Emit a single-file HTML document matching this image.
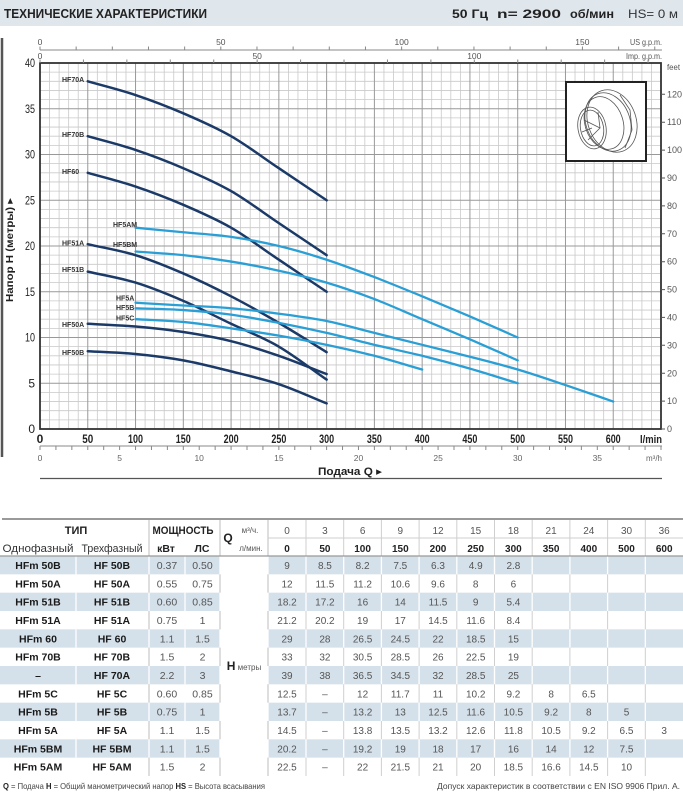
<!DOCTYPE html>
<html><head><meta charset="utf-8"><style>html,body{margin:0;padding:0;background:#fff}svg{display:block}</style></head>
<body>
<svg width="683" height="800" viewBox="0 0 683 800" xmlns="http://www.w3.org/2000/svg" font-family="Liberation Sans, DejaVu Sans, sans-serif">
<rect x="0" y="0" width="683" height="800" fill="#fff"/>
<!-- header -->
<rect x="0" y="0" width="683" height="26" fill="#dfe6ec"/>
<text x="4" y="18" font-size="12.5" font-weight="bold" fill="#222" textLength="203" lengthAdjust="spacingAndGlyphs">ТЕХНИЧЕСКИЕ ХАРАКТЕРИСТИКИ</text>
<text x="452" y="18" font-size="12" font-weight="bold" fill="#222" textLength="36" lengthAdjust="spacingAndGlyphs">50 Гц</text>
<text x="497" y="18" font-size="12" font-weight="bold" fill="#222" textLength="64" lengthAdjust="spacingAndGlyphs">n= 2900</text>
<text x="570" y="18" font-size="12" font-weight="bold" fill="#222" textLength="44" lengthAdjust="spacingAndGlyphs">об/мин</text>
<text x="628" y="18" font-size="12" fill="#333" textLength="50" lengthAdjust="spacingAndGlyphs">HS= 0 м</text>

<!-- left border -->
<line x1="2" y1="38" x2="2" y2="457" stroke="#555" stroke-width="2.5"/>

<!-- grid -->
<g transform="translate(40 429) scale(0.9554 -9.15)" fill="none">
<path vector-effect="non-scaling-stroke" stroke="#c9c9c9" stroke-width="0.8" d="M10 0V40M20 0V40M30 0V40M40 0V40M60 0V40M70 0V40M80 0V40M90 0V40M110 0V40M120 0V40M130 0V40M140 0V40M160 0V40M170 0V40M180 0V40M190 0V40M210 0V40M220 0V40M230 0V40M240 0V40M260 0V40M270 0V40M280 0V40M290 0V40M310 0V40M320 0V40M330 0V40M340 0V40M360 0V40M370 0V40M380 0V40M390 0V40M410 0V40M420 0V40M430 0V40M440 0V40M460 0V40M470 0V40M480 0V40M490 0V40M510 0V40M520 0V40M530 0V40M540 0V40M560 0V40M570 0V40M580 0V40M590 0V40M610 0V40M620 0V40M630 0V40M640 0V40"/>
<path vector-effect="non-scaling-stroke" stroke="#c9c9c9" stroke-width="0.8" d="M0 1H650M0 2H650M0 3H650M0 4H650M0 6H650M0 7H650M0 8H650M0 9H650M0 11H650M0 12H650M0 13H650M0 14H650M0 16H650M0 17H650M0 18H650M0 19H650M0 21H650M0 22H650M0 23H650M0 24H650M0 26H650M0 27H650M0 28H650M0 29H650M0 31H650M0 32H650M0 33H650M0 34H650M0 36H650M0 37H650M0 38H650M0 39H650"/>
<path vector-effect="non-scaling-stroke" stroke="#999" stroke-width="1" d="M50 0V40M100 0V40M150 0V40M200 0V40M250 0V40M300 0V40M350 0V40M400 0V40M450 0V40M500 0V40M550 0V40M600 0V40M0 5H650M0 10H650M0 15H650M0 20H650M0 25H650M0 30H650M0 35H650"/>
</g>
<rect x="40" y="63" width="621" height="366" fill="none" stroke="#333" stroke-width="1.8"/>

<!-- pump picture -->
<rect x="566" y="82" width="80" height="79" fill="#fff" stroke="#222" stroke-width="2"/>
<g fill="none" stroke="#555" stroke-width="0.8">
<ellipse cx="612" cy="121" rx="24" ry="32" transform="rotate(-20 612 121)"/>
<ellipse cx="608" cy="122" rx="22" ry="30" transform="rotate(-20 608 122)"/>
<ellipse cx="604" cy="123" rx="19" ry="27" transform="rotate(-18 604 123)"/>
<ellipse cx="592" cy="128" rx="14" ry="21" transform="rotate(-10 592 128)"/>
<ellipse cx="592" cy="128" rx="11.5" ry="18" transform="rotate(-10 592 128)"/>
<path d="M584 120 L600 128 L588 140 M600 128 L598 112 M592 128 L582 132"/>
<path d="M620 95 L630 110 L632 130 L625 148"/>
</g>

<!-- top axes -->
<line x1="40" y1="50" x2="662" y2="50" stroke="#888" stroke-width="1"/>
<g transform="translate(40 0) scale(3.6162 1)">
<path vector-effect="non-scaling-stroke" stroke="#888" stroke-width="1" d="M0 46.5V50M10 46.5V50M20 46.5V50M30 46.5V50M40 46.5V50M50 46.5V50M60 46.5V50M70 46.5V50M80 46.5V50M90 46.5V50M100 46.5V50M110 46.5V50M120 46.5V50M130 46.5V50M140 46.5V50M150 46.5V50M160 46.5V50M170 46.5V50"/>
</g>
<g transform="translate(40 0) scale(4.3433 1)">
<path vector-effect="non-scaling-stroke" stroke="#888" stroke-width="1" d="M0 59.5V63M10 59.5V63M20 59.5V63M30 59.5V63M40 59.5V63M50 59.5V63M60 59.5V63M70 59.5V63M80 59.5V63M90 59.5V63M100 59.5V63M110 59.5V63M120 59.5V63M130 59.5V63M140 59.5V63"/>
</g>
<g font-size="8.5" fill="#555" text-anchor="middle">
<text x="40" y="45">0</text><text x="220.8" y="45">50</text><text x="401.6" y="45">100</text><text x="582.4" y="45">150</text>
<text x="40" y="59">0</text><text x="257.2" y="59">50</text><text x="474.3" y="59">100</text>
</g>
<text x="662" y="45" font-size="8.5" fill="#555" text-anchor="end" textLength="32" lengthAdjust="spacingAndGlyphs">US g.p.m.</text>
<text x="662" y="59" font-size="8.5" fill="#555" text-anchor="end" textLength="36" lengthAdjust="spacingAndGlyphs">Imp. g.p.m.</text>
<text x="667" y="70" font-size="8.5" fill="#555" textLength="13" lengthAdjust="spacingAndGlyphs">feet</text>

<!-- right axis feet -->
<path stroke="#555" stroke-width="1" d="M661 429H665M661 401.1H665M661 373.2H665M661 345.3H665M661 317.4H665M661 289.6H665M661 261.7H665M661 233.8H665M661 205.9H665M661 178H665M661 150.1H665M661 122.2H665M661 94.3H665"/>
<g font-size="9" fill="#555">
<text x="667" y="432">0</text><text x="667" y="404.2">10</text><text x="667" y="376.3">20</text><text x="667" y="348.4">30</text><text x="667" y="320.5">40</text><text x="667" y="292.6">50</text><text x="667" y="264.7">60</text><text x="667" y="236.8">70</text><text x="667" y="208.9">80</text><text x="667" y="181">90</text><text x="667" y="153.1">100</text><text x="667" y="125.2">110</text><text x="667" y="97.3">120</text>
</g>

<!-- y axis labels -->
<g font-size="12" fill="#222" text-anchor="end">
<text x="35" y="433">0</text><text x="35" y="387.3">5</text>
<text x="35" y="341.5" textLength="10" lengthAdjust="spacingAndGlyphs">10</text>
<text x="35" y="295.8" textLength="10" lengthAdjust="spacingAndGlyphs">15</text>
<text x="35" y="250" textLength="10" lengthAdjust="spacingAndGlyphs">20</text>
<text x="35" y="204.3" textLength="10" lengthAdjust="spacingAndGlyphs">25</text>
<text x="35" y="158.5" textLength="10" lengthAdjust="spacingAndGlyphs">30</text>
<text x="35" y="112.8" textLength="10" lengthAdjust="spacingAndGlyphs">35</text>
<text x="35" y="67" textLength="10" lengthAdjust="spacingAndGlyphs">40</text>
</g>
<text transform="translate(13 250) rotate(-90)" text-anchor="middle" font-size="10.5" font-weight="bold" fill="#222" textLength="104" lengthAdjust="spacingAndGlyphs">Напор H (метры) ▸</text>

<!-- x axis labels -->
<g font-size="12" font-weight="bold" fill="#222" text-anchor="middle">
<text x="40" y="443">0</text>
<text x="87.8" y="443" textLength="11" lengthAdjust="spacingAndGlyphs">50</text>
<text x="135.5" y="443" textLength="15" lengthAdjust="spacingAndGlyphs">100</text>
<text x="183.3" y="443" textLength="15" lengthAdjust="spacingAndGlyphs">150</text>
<text x="231.1" y="443" textLength="15" lengthAdjust="spacingAndGlyphs">200</text>
<text x="278.9" y="443" textLength="15" lengthAdjust="spacingAndGlyphs">250</text>
<text x="326.6" y="443" textLength="15" lengthAdjust="spacingAndGlyphs">300</text>
<text x="374.4" y="443" textLength="15" lengthAdjust="spacingAndGlyphs">350</text>
<text x="422.2" y="443" textLength="15" lengthAdjust="spacingAndGlyphs">400</text>
<text x="469.9" y="443" textLength="15" lengthAdjust="spacingAndGlyphs">450</text>
<text x="517.7" y="443" textLength="15" lengthAdjust="spacingAndGlyphs">500</text>
<text x="565.5" y="443" textLength="15" lengthAdjust="spacingAndGlyphs">550</text>
<text x="613.2" y="443" textLength="15" lengthAdjust="spacingAndGlyphs">600</text>
</g>
<text x="662" y="443" font-size="11" font-weight="bold" fill="#222" text-anchor="end" textLength="22" lengthAdjust="spacingAndGlyphs">l/min</text>

<!-- m3/h axis -->
<line x1="40" y1="446" x2="662" y2="446" stroke="#888" stroke-width="1"/>
<g transform="translate(40 0) scale(15.923 1)">
<path vector-effect="non-scaling-stroke" stroke="#888" stroke-width="1" d="M0 446V450M1 446V450M2 446V450M3 446V450M4 446V450M5 446V450M6 446V450M7 446V450M8 446V450M9 446V450M10 446V450M11 446V450M12 446V450M13 446V450M14 446V450M15 446V450M16 446V450M17 446V450M18 446V450M19 446V450M20 446V450M21 446V450M22 446V450M23 446V450M24 446V450M25 446V450M26 446V450M27 446V450M28 446V450M29 446V450M30 446V450M31 446V450M32 446V450M33 446V450M34 446V450M35 446V450M36 446V450M37 446V450M38 446V450M39 446V450"/>
</g>
<g font-size="8.5" fill="#666" text-anchor="middle">
<text x="40" y="461">0</text><text x="119.6" y="461">5</text><text x="199.2" y="461">10</text><text x="278.9" y="461">15</text><text x="358.5" y="461">20</text><text x="438.1" y="461">25</text><text x="517.7" y="461">30</text><text x="597.3" y="461">35</text>
</g>
<text x="662" y="461" font-size="8" fill="#666" text-anchor="end">m³/h</text>
<text x="350" y="475" font-size="11" font-weight="bold" fill="#222" text-anchor="middle" textLength="64" lengthAdjust="spacingAndGlyphs">Подача Q ▸</text>
<line x1="40" y1="478.5" x2="662" y2="478.5" stroke="#555" stroke-width="1.3"/>

<!-- curves -->
<g transform="translate(40 429) scale(0.9554 -9.15)" fill="none" stroke-linecap="round">
<g stroke="#1b3a68">
<path vector-effect="non-scaling-stroke" stroke-width="2.5" d="M50 8.5C66.67 8.4 83.33 8.367 100 8.2C116.67 8.033 133.33 7.817 150 7.5C166.67 7.183 183.33 6.733 200 6.3C216.67 5.867 233.33 5.483 250 4.9C266.67 4.317 283.33 3.5 300 2.8"/>
<path vector-effect="non-scaling-stroke" stroke-width="2.5" d="M50 11.5C66.67 11.4 83.33 11.35 100 11.2C116.67 11.05 133.33 10.867 150 10.6C166.67 10.333 183.33 10.033 200 9.6C216.67 9.167 233.33 8.6 250 8C266.67 7.4 283.33 6.667 300 6"/>
<path vector-effect="non-scaling-stroke" stroke-width="2.5" d="M50 17.2C66.67 16.8 83.33 16.533 100 16C116.67 15.467 133.33 14.75 150 14C166.67 13.25 183.33 12.333 200 11.5C216.67 10.667 233.33 10.017 250 9C266.67 7.983 283.33 6.6 300 5.4"/>
<path vector-effect="non-scaling-stroke" stroke-width="2.5" d="M50 20.2C66.67 19.8 83.33 19.533 100 19C116.67 18.467 133.33 17.75 150 17C166.67 16.25 183.33 15.4 200 14.5C216.67 13.6 233.33 12.617 250 11.6C266.67 10.583 283.33 9.467 300 8.4"/>
<path vector-effect="non-scaling-stroke" stroke-width="2.5" d="M50 28C66.67 27.5 83.33 27.083 100 26.5C116.67 25.917 133.33 25.25 150 24.5C166.67 23.75 183.33 23 200 22C216.67 21 233.33 19.667 250 18.5C266.67 17.333 283.33 16.167 300 15"/>
<path vector-effect="non-scaling-stroke" stroke-width="2.5" d="M50 32C66.67 31.5 83.33 31.083 100 30.5C116.67 29.917 133.33 29.25 150 28.5C166.67 27.75 183.33 27 200 26C216.67 25 233.33 23.667 250 22.5C266.67 21.333 283.33 20.167 300 19"/>
<path vector-effect="non-scaling-stroke" stroke-width="2.5" d="M50 38C66.67 37.5 83.33 37.083 100 36.5C116.67 35.917 133.33 35.25 150 34.5C166.67 33.75 183.33 33 200 32C216.67 31 233.33 29.667 250 28.5C266.67 27.333 283.33 26.167 300 25"/>
</g>
<g stroke="#2a9fd6">
<path vector-effect="non-scaling-stroke" stroke-width="2.3" d="M100 12C116.67 11.9 133.33 11.867 150 11.7C166.67 11.533 183.33 11.25 200 11C216.67 10.75 233.33 10.5 250 10.2C266.67 9.9 283.33 9.567 300 9.2C316.67 8.833 333.33 8.45 350 8C366.67 7.55 383.33 7 400 6.5"/>
<path vector-effect="non-scaling-stroke" stroke-width="2.3" d="M100 13.2C116.67 13.133 133.33 13.117 150 13C166.67 12.883 183.33 12.733 200 12.5C216.67 12.267 233.33 11.933 250 11.6C266.67 11.267 283.33 10.9 300 10.5C316.67 10.1 333.33 9.617 350 9.2C366.67 8.783 383.33 8.433 400 8C416.67 7.567 433.33 7.1 450 6.6C466.67 6.1 483.33 5.533 500 5"/>
<path vector-effect="non-scaling-stroke" stroke-width="2.3" d="M100 13.8C116.67 13.7 133.33 13.6 150 13.5C166.67 13.4 183.33 13.35 200 13.2C216.67 13.05 233.33 12.833 250 12.6C266.67 12.367 283.33 12.15 300 11.8C316.67 11.45 333.33 10.933 350 10.5C366.67 10.067 383.33 9.633 400 9.2C416.67 8.767 433.33 8.35 450 7.9C466.67 7.45 483.33 7.017 500 6.5C516.67 5.983 533.33 5.383 550 4.8C566.67 4.217 583.33 3.6 600 3"/>
<path vector-effect="non-scaling-stroke" stroke-width="2.3" d="M100 19.4C116.67 19.267 133.33 19.183 150 19C166.67 18.817 183.33 18.583 200 18.3C216.67 18.017 233.33 17.683 250 17.3C266.67 16.917 283.33 16.517 300 16C316.67 15.483 333.33 14.867 350 14.2C366.67 13.533 383.33 12.733 400 12C416.67 11.267 433.33 10.55 450 9.8C466.67 9.05 483.33 8.267 500 7.5"/>
<path vector-effect="non-scaling-stroke" stroke-width="2.3" d="M100 22C116.67 21.833 133.33 21.667 150 21.5C166.67 21.333 183.33 21.25 200 21C216.67 20.75 233.33 20.417 250 20C266.67 19.583 283.33 19.067 300 18.5C316.67 17.933 333.33 17.267 350 16.6C366.67 15.933 383.33 15.217 400 14.5C416.67 13.783 433.33 13.05 450 12.3C466.67 11.55 483.33 10.767 500 10"/>
</g>
</g>

<!-- curve labels -->
<g font-size="7" font-weight="bold" fill="#333">
<text x="62" y="82">HF70A</text>
<text x="62" y="137">HF70B</text>
<text x="62" y="174">HF60</text>
<text x="62" y="245.5">HF51A</text>
<text x="62" y="272">HF51B</text>
<text x="62" y="327">HF50A</text>
<text x="62" y="355">HF50B</text>
<text x="113" y="227">HF5AM</text>
<text x="113" y="247">HF5BM</text>
<text x="116" y="300.5">HF5A</text>
<text x="116" y="310">HF5B</text>
<text x="116" y="320.5">HF5C</text>
</g>

<!-- TABLE -->
<g>
<rect x="0" y="556" width="683" height="18.33" fill="#d5e1ea"/>
<rect x="0" y="592.67" width="683" height="18.33" fill="#d5e1ea"/>
<rect x="0" y="629.33" width="683" height="18.33" fill="#d5e1ea"/>
<rect x="0" y="666" width="683" height="18.33" fill="#d5e1ea"/>
<rect x="0" y="702.67" width="683" height="18.33" fill="#d5e1ea"/>
<rect x="0" y="739.33" width="683" height="18.33" fill="#d5e1ea"/>
<rect x="220" y="556" width="48" height="220" fill="#fff"/>
</g>
<path stroke="#bdbdbd" stroke-width="1" d="M149 520V776M220 520V776M268 520V776"/>
<path stroke="#cfcfcf" stroke-width="1" d="M306 520V776M343.7 520V776M381.4 520V776M419.1 520V776M456.8 520V776M494.5 520V776M532.2 520V776M569.9 520V776M607.6 520V776M645.3 520V776M268 538H683"/>
<path stroke="#fff" stroke-width="1.3" stroke-dasharray="18.33 18.33" d="M76 556V776M149 556V776M185 556V776M220 556V776M268 556V776M306 556V776M343.7 556V776M381.4 556V776M419.1 556V776M456.8 556V776M494.5 556V776M532.2 556V776M569.9 556V776M607.6 556V776M645.3 556V776"/>
<line x1="2" y1="519" x2="683" y2="519" stroke="#9a9a9a" stroke-width="2"/>
<line x1="0" y1="556" x2="683" y2="556" stroke="#999" stroke-width="1.2"/>

<!-- table header -->
<text x="76" y="534" font-size="11" font-weight="bold" fill="#222" text-anchor="middle">ТИП</text>
<text x="183" y="534" font-size="11" font-weight="bold" fill="#222" text-anchor="middle" textLength="61" lengthAdjust="spacingAndGlyphs">МОЩНОСТЬ</text>
<text x="38" y="552" font-size="11" fill="#333" text-anchor="middle" textLength="71" lengthAdjust="spacingAndGlyphs">Однофазный</text>
<text x="112" y="552" font-size="11" fill="#333" text-anchor="middle" textLength="61" lengthAdjust="spacingAndGlyphs">Трехфазный</text>
<text x="166" y="552" font-size="10.5" font-weight="bold" fill="#222" text-anchor="middle">кВт</text>
<text x="202" y="552" font-size="10.5" font-weight="bold" fill="#222" text-anchor="middle">ЛС</text>
<text x="228" y="542" font-size="12" font-weight="bold" fill="#222" text-anchor="middle">Q</text>
<text x="250" y="533" font-size="8" fill="#555" text-anchor="middle">м³/ч.</text>
<text x="251" y="551" font-size="8" fill="#555" text-anchor="middle">л/мин.</text>
<g font-size="10" fill="#555" text-anchor="middle">
<text x="287" y="534">0</text><text x="324.9" y="534">3</text><text x="362.6" y="534">6</text><text x="400.3" y="534">9</text><text x="438" y="534">12</text><text x="475.7" y="534">15</text><text x="513.4" y="534">18</text><text x="551.1" y="534">21</text><text x="588.8" y="534">24</text><text x="626.5" y="534">30</text><text x="664.2" y="534">36</text>
</g>
<g font-size="10" font-weight="bold" fill="#222" text-anchor="middle">
<text x="287" y="552">0</text><text x="324.9" y="552">50</text><text x="362.6" y="552">100</text><text x="400.3" y="552">150</text><text x="438" y="552">200</text><text x="475.7" y="552">250</text><text x="513.4" y="552">300</text><text x="551.1" y="552">350</text><text x="588.8" y="552">400</text><text x="626.5" y="552">500</text><text x="664.2" y="552">600</text>
</g>
<text x="244" y="670" text-anchor="middle" fill="#222"><tspan font-size="12" font-weight="bold">H</tspan><tspan font-size="8" fill="#555"> метры</tspan></text>

<!-- table names -->
<g font-size="10.5" font-weight="bold" fill="#1a1a1a" text-anchor="middle">
<text x="38" y="569">HFm 50B</text><text x="112" y="569">HF 50B</text>
<text x="38" y="587.3">HFm 50A</text><text x="112" y="587.3">HF 50A</text>
<text x="38" y="605.6">HFm 51B</text><text x="112" y="605.6">HF 51B</text>
<text x="38" y="624">HFm 51A</text><text x="112" y="624">HF 51A</text>
<text x="38" y="642.3">HFm 60</text><text x="112" y="642.3">HF 60</text>
<text x="38" y="660.6">HFm 70B</text><text x="112" y="660.6">HF 70B</text>
<text x="38" y="679">–</text><text x="112" y="679">HF 70A</text>
<text x="38" y="697.3">HFm 5C</text><text x="112" y="697.3">HF 5C</text>
<text x="38" y="715.6">HFm 5B</text><text x="112" y="715.6">HF 5B</text>
<text x="38" y="734">HFm 5A</text><text x="112" y="734">HF 5A</text>
<text x="38" y="752.3">HFm 5BM</text><text x="112" y="752.3">HF 5BM</text>
<text x="38" y="770.6">HFm 5AM</text><text x="112" y="770.6">HF 5AM</text>
</g>

<!-- table values -->
<g font-size="10.5" fill="#555" text-anchor="middle">
<text x="167" y="569">0.37</text><text x="202.5" y="569">0.50</text>
<text x="167" y="587.3">0.55</text><text x="202.5" y="587.3">0.75</text>
<text x="167" y="605.6">0.60</text><text x="202.5" y="605.6">0.85</text>
<text x="167" y="624">0.75</text><text x="202.5" y="624">1</text>
<text x="167" y="642.3">1.1</text><text x="202.5" y="642.3">1.5</text>
<text x="167" y="660.6">1.5</text><text x="202.5" y="660.6">2</text>
<text x="167" y="679">2.2</text><text x="202.5" y="679">3</text>
<text x="167" y="697.3">0.60</text><text x="202.5" y="697.3">0.85</text>
<text x="167" y="715.6">0.75</text><text x="202.5" y="715.6">1</text>
<text x="167" y="734">1.1</text><text x="202.5" y="734">1.5</text>
<text x="167" y="752.3">1.1</text><text x="202.5" y="752.3">1.5</text>
<text x="167" y="770.6">1.5</text><text x="202.5" y="770.6">2</text>
</g>
<g font-size="10" fill="#555" text-anchor="middle">
<text x="287" y="569">9</text><text x="324.9" y="569">8.5</text><text x="362.6" y="569">8.2</text><text x="400.3" y="569">7.5</text><text x="438" y="569">6.3</text><text x="475.7" y="569">4.9</text><text x="513.4" y="569">2.8</text>
<text x="287" y="587.3">12</text><text x="324.9" y="587.3">11.5</text><text x="362.6" y="587.3">11.2</text><text x="400.3" y="587.3">10.6</text><text x="438" y="587.3">9.6</text><text x="475.7" y="587.3">8</text><text x="513.4" y="587.3">6</text>
<text x="287" y="605.6">18.2</text><text x="324.9" y="605.6">17.2</text><text x="362.6" y="605.6">16</text><text x="400.3" y="605.6">14</text><text x="438" y="605.6">11.5</text><text x="475.7" y="605.6">9</text><text x="513.4" y="605.6">5.4</text>
<text x="287" y="624">21.2</text><text x="324.9" y="624">20.2</text><text x="362.6" y="624">19</text><text x="400.3" y="624">17</text><text x="438" y="624">14.5</text><text x="475.7" y="624">11.6</text><text x="513.4" y="624">8.4</text>
<text x="287" y="642.3">29</text><text x="324.9" y="642.3">28</text><text x="362.6" y="642.3">26.5</text><text x="400.3" y="642.3">24.5</text><text x="438" y="642.3">22</text><text x="475.7" y="642.3">18.5</text><text x="513.4" y="642.3">15</text>
<text x="287" y="660.6">33</text><text x="324.9" y="660.6">32</text><text x="362.6" y="660.6">30.5</text><text x="400.3" y="660.6">28.5</text><text x="438" y="660.6">26</text><text x="475.7" y="660.6">22.5</text><text x="513.4" y="660.6">19</text>
<text x="287" y="679">39</text><text x="324.9" y="679">38</text><text x="362.6" y="679">36.5</text><text x="400.3" y="679">34.5</text><text x="438" y="679">32</text><text x="475.7" y="679">28.5</text><text x="513.4" y="679">25</text>
<text x="287" y="697.3">12.5</text><text x="324.9" y="697.3">–</text><text x="362.6" y="697.3">12</text><text x="400.3" y="697.3">11.7</text><text x="438" y="697.3">11</text><text x="475.7" y="697.3">10.2</text><text x="513.4" y="697.3">9.2</text><text x="551.1" y="697.3">8</text><text x="588.8" y="697.3">6.5</text>
<text x="287" y="715.6">13.7</text><text x="324.9" y="715.6">–</text><text x="362.6" y="715.6">13.2</text><text x="400.3" y="715.6">13</text><text x="438" y="715.6">12.5</text><text x="475.7" y="715.6">11.6</text><text x="513.4" y="715.6">10.5</text><text x="551.1" y="715.6">9.2</text><text x="588.8" y="715.6">8</text><text x="626.5" y="715.6">5</text>
<text x="287" y="734">14.5</text><text x="324.9" y="734">–</text><text x="362.6" y="734">13.8</text><text x="400.3" y="734">13.5</text><text x="438" y="734">13.2</text><text x="475.7" y="734">12.6</text><text x="513.4" y="734">11.8</text><text x="551.1" y="734">10.5</text><text x="588.8" y="734">9.2</text><text x="626.5" y="734">6.5</text><text x="664.2" y="734">3</text>
<text x="287" y="752.3">20.2</text><text x="324.9" y="752.3">–</text><text x="362.6" y="752.3">19.2</text><text x="400.3" y="752.3">19</text><text x="438" y="752.3">18</text><text x="475.7" y="752.3">17</text><text x="513.4" y="752.3">16</text><text x="551.1" y="752.3">14</text><text x="588.8" y="752.3">12</text><text x="626.5" y="752.3">7.5</text>
<text x="287" y="770.6">22.5</text><text x="324.9" y="770.6">–</text><text x="362.6" y="770.6">22</text><text x="400.3" y="770.6">21.5</text><text x="438" y="770.6">21</text><text x="475.7" y="770.6">20</text><text x="513.4" y="770.6">18.5</text><text x="551.1" y="770.6">16.6</text><text x="588.8" y="770.6">14.5</text><text x="626.5" y="770.6">10</text>
</g>

<!-- footer -->
<text x="3" y="789" font-size="8.5" fill="#444" textLength="262" lengthAdjust="spacingAndGlyphs"><tspan font-weight="bold" fill="#222">Q</tspan> = Подача  <tspan font-weight="bold" fill="#222">H</tspan> = Общий манометрический напор  <tspan font-weight="bold" fill="#222">HS</tspan> = Высота всасывания</text>
<text x="680" y="789" font-size="8.5" fill="#444" text-anchor="end" textLength="243" lengthAdjust="spacingAndGlyphs">Допуск характеристик в соответствии с EN ISO 9906 Прил. A.</text>
</svg>
</body></html>
